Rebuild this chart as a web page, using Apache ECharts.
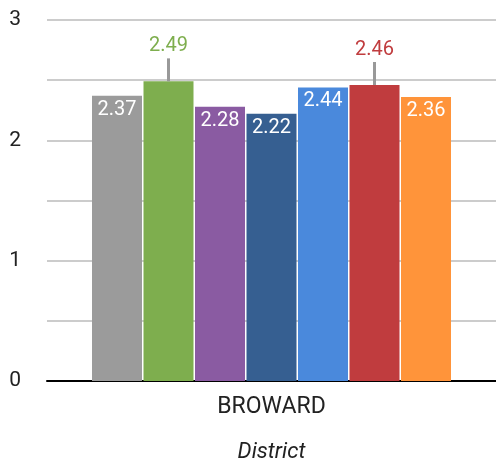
<!DOCTYPE html>
<html><head><meta charset="utf-8">
<script src="https://cdn.jsdelivr.net/npm/echarts@6/dist/echarts.min.js"></script>
<style>html,body{margin:0;padding:0;background:#fff}#c{width:496px;height:468px}</style>
</head><body><div id="c"></div>
<script>
const categories = ['BROWARD'];
const seriesNames = ['S1','S2','S3','S4','S5','S6','S7'];
const seriesValues = [[2.37],[2.49],[2.28],[2.22],[2.44],[2.46],[2.36]];
const seriesColors = ['#9b9b9b','#7eae4e','#8a5ba2','#365f91','#4a89dc','#c03c3e','#ff943a'];
const outsideLabel = [false,true,false,false,false,true,false];
const yTicks = [0,1,2,3];

const chart = echarts.init(document.getElementById('c'));
const series = seriesValues.map((vals, i) => ({
  name: seriesNames[i],
  type: 'bar',
  data: vals,
  barWidth: 50,
  barGap: '3%',
  itemStyle: { color: seriesColors[i] },
  label: outsideLabel[i] ? {
    show: true, position: 'top', distance: 0,
    formatter: p => '{v|' + p.value.toFixed(2) + '}\n{l|}',
    rich: {
      v: { fontFamily: 'Roboto', fontSize: 20, color: seriesColors[i], lineHeight: 24, align: 'center' },
      l: { width: 3, height: 23, lineHeight: 23, backgroundColor: '#999999', align: 'center' }
    }
  } : {
    show: true, position: 'insideTop', distance: 4,
    fontFamily: 'Roboto', fontSize: 20, color: '#ffffff',
    formatter: p => p.value.toFixed(2)
  }
}));

chart.setOption({
  animation: false,
  grid: { left: 47, right: 0, top: 20, bottom: 81, containLabel: false },
  xAxis: {
    type: 'category', data: categories,
    axisLine: { lineStyle: { color: '#000', width: 2 } },
    axisTick: { show: false },
    axisLabel: { fontFamily: 'Roboto', fontSize: 23, color: '#222', margin: 15 },
    name: 'District', nameLocation: 'middle', nameGap: 60,
    nameTextStyle: { fontFamily: 'Roboto', fontSize: 22, fontStyle: 'italic', color: '#222' }
  },
  yAxis: {
    type: 'value', min: 0, max: 3, interval: 0.5,
    axisLine: { show: false }, axisTick: { show: false },
    splitLine: { lineStyle: { color: '#cccccc', width: 2 } },
    axisLabel: {
      fontFamily: 'Roboto', fontSize: 21, color: '#222', margin: 26,
      formatter: v => yTicks.includes(v) ? String(v) : ''
    }
  },
  series: series
});
</script></body></html>
